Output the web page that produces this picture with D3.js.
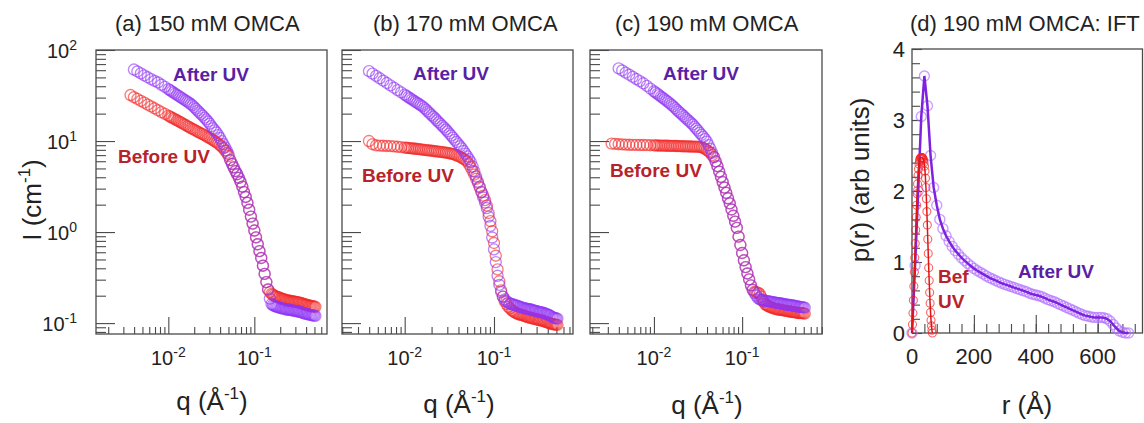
<!DOCTYPE html>
<html>
<head>
<meta charset="utf-8">
<script src="https://cdn.jsdelivr.net/npm/d3@7"></script>
<style>
  body { margin: 0; background: #fff; }
  svg { display: block; }
  text { font-family: "Liberation Sans", Arial, sans-serif; fill: #222; }
</style>
</head>
<body>
<svg id="chart" width="1144" height="423"></svg>
<script>
// shared q grid (Å^-1) for the three SAXS panels
const qValues = [0.003311, 0.003631, 0.003981, 0.004365, 0.004786, 0.005248, 0.005754, 0.006310, 0.006918, 0.007586,
  0.008318, 0.009120, 0.01000,
  0.01047, 0.01096, 0.01148, 0.01202, 0.01259, 0.01318, 0.01380, 0.01445, 0.01514, 0.01585,
  0.01660, 0.01738, 0.01820, 0.01905, 0.01995, 0.02089, 0.02188, 0.02291, 0.02399, 0.02512,
  0.02630, 0.02754, 0.02884, 0.03020, 0.03162, 0.03311, 0.03467, 0.03631, 0.03802, 0.03981,
  0.04169, 0.04365, 0.04571, 0.04786,
  0.05012, 0.05248, 0.05495, 0.05754, 0.06026, 0.06310, 0.06607, 0.06918, 0.07244, 0.07586,
  0.07943, 0.08318, 0.08710, 0.09120, 0.09550, 0.1000, 0.1047, 0.1096, 0.1148, 0.1202,
  0.1259, 0.1318, 0.1380, 0.1445, 0.1514, 0.1585,
  0.1641, 0.1698, 0.1758, 0.1820, 0.1884, 0.1950, 0.2018, 0.2089, 0.2163, 0.2239,
  0.2317, 0.2399, 0.2483, 0.2570, 0.2661, 0.2754, 0.2851, 0.2951, 0.3055, 0.3162,
  0.3273, 0.3388, 0.3508, 0.3631, 0.3758, 0.3890, 0.4027, 0.4169, 0.4315, 0.4467,
  0.4624, 0.4786, 0.4955, 0.5129];

// I (cm^-1), panel (a) 150 mM
const iAfterA = [null, null, 61.0, 58.1, 55.3, 52.7, 50.2, 47.9, 45.7, 44.0, 41.5, 39.3, 37.1,
  36.1, 35.1, 34.1, 33.1, 32.2, 31.3, 30.4, 29.6, 28.7, 27.9, 27.1, 26.4, 25.5, 24.7, 23.6, 22.6, 21.6,
  20.7, 19.8, 19.0, 18.1, 17.3, 16.4, 15.5, 14.6, 13.8, 13.1, 12.4, 11.6, 10.8, 9.98, 9.23, 8.51, 7.85,
  7.16, 6.17, 5.62, 5.13, 4.68, 4.32, 3.94, 3.55, 3.16, 2.75, 2.43, 2.09, 1.76, 1.48, 1.24, 1.04,
  0.875, 0.735, 0.617, 0.519, 0.427, 0.347, 0.282, 0.234, 0.186, 0.162,
  0.158, 0.155, 0.153, 0.151, 0.150, 0.148, 0.146, 0.145, 0.144, 0.143, 0.142, 0.141, 0.140, 0.140,
  0.139, 0.138, 0.137, 0.136, 0.135, 0.135, 0.134, 0.133, 0.131, 0.130, 0.128, 0.127, 0.126, 0.126,
  0.124, 0.123, 0.122, 0.122, 0.121, 0.120];
const iBeforeA = [null, 32.0, 30.3, 29.0, 27.6, 26.4, 25.1, 24.0, 22.9, 21.8, 20.8, 19.9, 19.0,
  18.5, 18.1, 17.7, 17.3, 16.9, 16.5, 16.1, 15.7, 15.3, 15.0, 14.6, 14.3, 13.9, 13.6, 13.3, 13.0, 12.7,
  12.4, 12.1, 11.9, 11.6, 11.3, 11.0, 10.8, 10.5, 10.2, 9.93, 9.66, 9.34, 9.02, 8.67, 8.32, 7.86, 7.41,
  6.84, 6.17, 5.62, 5.13, 4.68, 4.32, 3.94, 3.55, 3.16, 2.75, 2.43, 2.09, 1.76, 1.48, 1.24, 1.04,
  0.875, 0.735, 0.617, 0.519, 0.427, 0.347, 0.282, 0.234, 0.219, 0.209,
  0.205, 0.200, 0.197, 0.195, 0.193, 0.191, 0.188, 0.186, 0.184, 0.182, 0.180, 0.178, 0.177, 0.176,
  0.175, 0.174, 0.173, 0.172, 0.171, 0.170, 0.169, 0.168, 0.166, 0.164, 0.162, 0.160, 0.159, 0.158,
  0.156, 0.155, 0.154, 0.153, 0.152, 0.151];

// panel (b) 170 mM
const iAfterB = [null, null, 58.5, 55.1, 51.9, 48.9, 46.0, 43.4, 40.8, 38.5, 36.3, 34.2, 32.3,
  31.3, 30.4, 29.5, 28.7, 27.8, 27.0, 26.2, 25.5, 24.7, 24.0, 23.0, 22.1, 21.1, 20.2, 19.3, 18.5, 17.7,
  16.9, 16.1, 15.4, 14.7, 14.1, 13.4, 12.8, 12.1, 11.5, 10.9, 10.3, 9.76, 9.25, 8.76, 8.30, 7.77, 7.28,
  6.78, 6.31, 5.87, 5.25, 4.63, 4.07, 3.58, 3.16, 2.75, 2.40, 2.11, 1.83, 1.48, 1.17, 0.871, 0.646,
  0.468, 0.331, 0.263, 0.219, 0.195, 0.182, 0.174, 0.168, 0.164, 0.162,
  0.160, 0.158, 0.156, 0.155, 0.153, 0.151, 0.150, 0.148, 0.146, 0.145, 0.144, 0.143, 0.142, 0.141,
  0.140, 0.138, 0.137, 0.136, 0.135, 0.133, 0.132, 0.132, 0.130, 0.129, 0.127, 0.126, 0.124, 0.122,
  0.120, 0.117, 0.115, 0.114, 0.113, 0.112];
const iBeforeB = [null, null, 10.0, 9.23, 8.95, 8.91, 8.87, 8.83, 8.79, 8.73, 8.65, 8.57, 8.47,
  8.43, 8.39, 8.35, 8.32, 8.27, 8.22, 8.18, 8.15, 8.10, 8.05, 8.00, 7.96, 7.91, 7.87, 7.82, 7.78, 7.73,
  7.69, 7.64, 7.60, 7.56, 7.52, 7.46, 7.41, 7.34, 7.28, 7.18, 7.08, 6.96, 6.84, 6.68, 6.53, 6.35, 6.17,
  5.96, 5.56, 5.13, 4.68, 4.27, 3.85, 3.47, 3.09, 2.75, 2.51, 2.24, 1.95, 1.62, 1.32, 1.02, 0.759,
  0.550, 0.389, 0.288, 0.229, 0.195, 0.174, 0.162, 0.151, 0.145, 0.138,
  0.135, 0.132, 0.129, 0.127, 0.125, 0.124, 0.123, 0.122, 0.120, 0.119, 0.117, 0.116, 0.115, 0.115,
  0.113, 0.112, 0.111, 0.111, 0.109, 0.108, 0.107, 0.107, 0.106, 0.105, 0.103, 0.102, 0.101, 0.100,
  0.0988, 0.0977, 0.0971, 0.0966, 0.0960, 0.0955];

// panel (c) 190 mM
const iAfterC = [null, null, 62.8, 59.6, 56.5, 53.5, 50.7, 48.0, 45.5, 43.1, 40.3, 37.7, 35.2,
  34.1, 33.0, 31.9, 30.8, 29.8, 28.8, 27.8, 26.9, 25.9, 25.0, 24.0, 23.0, 22.0, 21.1, 20.3, 19.5, 18.7,
  17.9, 17.2, 16.5, 15.8, 15.2, 14.4, 13.7, 13.0, 12.3, 11.7, 11.1, 10.5, 9.84, 9.00, 8.22, 7.40, 6.65,
  5.97, 5.30, 4.62, 4.04, 3.53, 3.08, 2.69, 2.35, 2.07, 1.77, 1.51, 1.30, 1.11, 0.891, 0.721, 0.589,
  0.490, 0.412, 0.351, 0.302, 0.260, 0.232, 0.214, 0.200, 0.188, 0.182,
  0.180, 0.178, 0.177, 0.176, 0.175, 0.174, 0.173, 0.172, 0.171, 0.170, 0.169, 0.168, 0.167, 0.166,
  0.165, 0.164, 0.163, 0.162, 0.161, 0.160, 0.159, 0.158, 0.158, 0.157, 0.156, 0.155, 0.154, 0.153,
  0.152, 0.151, 0.151, 0.150, 0.149, 0.148];
const iBeforeC = [9.38, 9.29, 9.23, 9.18, 9.14, 9.10, 9.08, 9.06, 9.04, 9.04, 9.02, 8.99, 8.97,
  8.95, 8.93, 8.92, 8.91, 8.90, 8.89, 8.88, 8.87, 8.86, 8.85, 8.84, 8.83, 8.81, 8.79, 8.78, 8.77, 8.76,
  8.75, 8.73, 8.71, 8.70, 8.69, 8.68, 8.67, 8.64, 8.61, 8.53, 8.41, 8.20, 7.94, 7.70, 7.41, 7.00, 6.65,
  5.97, 5.30, 4.62, 4.04, 3.53, 3.08, 2.69, 2.35, 2.07, 1.77, 1.51, 1.30, 1.11, 0.891, 0.721, 0.589,
  0.490, 0.412, 0.351, 0.302, 0.260, 0.232, 0.221, 0.219, 0.216, 0.209,
  0.196, 0.182, 0.171, 0.162, 0.158, 0.155, 0.152, 0.150, 0.148, 0.146, 0.144, 0.143, 0.142, 0.141,
  0.140, 0.140, 0.139, 0.138, 0.137, 0.136, 0.135, 0.135, 0.134, 0.133, 0.132, 0.132, 0.131, 0.130,
  0.129, 0.129, 0.129, 0.129, 0.128, 0.127];

// panel (d) IFT, p(r)
const rAfter = [0, 10, 20, 30, 40, 50, 60, 70, 80, 90, 100, 110, 120, 130, 140, 150, 160, 170, 180, 190,
  200, 210, 220, 230, 240, 250, 260, 270, 280, 290, 300, 310, 320, 330, 340, 350, 360, 370, 380, 390,
  400, 410, 420, 430, 440, 450, 460, 470, 480, 490, 500, 510, 520, 530, 540, 550, 560, 570, 580, 590,
  600, 610, 620, 630, 640, 650, 660, 670, 680, 690, 700];
const pAfter = [0, 0.95, 2.0, 3.05, 3.62, 3.2, 2.5, 2.05, 1.8, 1.6, 1.47, 1.37, 1.29, 1.22, 1.16, 1.11, 1.06, 1.02, 0.98, 0.945,
  0.91, 0.88, 0.855, 0.83, 0.805, 0.78, 0.76, 0.74, 0.72, 0.70, 0.685, 0.67, 0.655, 0.64, 0.625, 0.61, 0.595, 0.58, 0.56, 0.545,
  0.535, 0.525, 0.51, 0.49, 0.47, 0.455, 0.44, 0.42, 0.40, 0.38, 0.36, 0.34, 0.32, 0.30, 0.28, 0.26, 0.245, 0.235, 0.225, 0.22,
  0.22, 0.22, 0.215, 0.20, 0.17, 0.12, 0.07, 0.03, 0.01, 0, 0];
const rBefore = [0, 1.5, 3, 4.5, 6, 7.5, 9, 10.5, 12, 13.5, 15, 16.5, 18, 19.5, 21, 22.5, 24, 25.5, 27, 28.5,
  30, 31.5, 33, 34.5, 36, 37.5, 39, 40.5, 42, 43.5, 45, 46.5, 48, 49.5, 51, 52.5, 54, 55.5, 57, 58.5,
  60, 61.5, 63, 64.5, 66];
const pBefore = [0, 0.12, 0.28, 0.46, 0.66, 0.86, 1.06, 1.26, 1.45, 1.63, 1.80, 1.96, 2.10, 2.22, 2.31, 2.38, 2.42, 2.45, 2.46, 2.47,
  2.47, 2.47, 2.47, 2.46, 2.45, 2.43, 2.40, 2.35, 2.28, 2.18, 2.05, 1.89, 1.71, 1.52, 1.32, 1.12, 0.92, 0.74, 0.57, 0.42,
  0.29, 0.18, 0.10, 0.04, 0];

const titles = ["(a) 150 mM OMCA", "(b) 170 mM OMCA", "(c) 190 mM OMCA", "(d) 190 mM OMCA: IFT"];
const yDecades = [0.1, 1, 10, 100];
const xDecades = [0.01, 0.1];
const pTicks = [0, 1, 2, 3, 4];
const rTicks = [0, 200, 400, 600];

const purple = "#9033f5", purpleText = "#5a1fa5";
const red = "#f22424", redText = "#b8232b";
const axisColor = "#4a4a4a";

const svg = d3.select("#chart");
const plotTop = 50, plotBottom = 334;

function styleAxis(sel) {
  sel.select(".domain").remove();
  sel.selectAll("line").attr("stroke", axisColor).attr("stroke-width", 1.1);
}

function powLabel(sel, base, exp, size, supSize) {
  sel.append("tspan").text(base).attr("font-size", size);
  sel.append("tspan").text(exp).attr("font-size", supSize).attr("dy", -size * 0.42);
}

function unitLabel(sel, head) {
  sel.append("tspan").text(head);
  sel.append("tspan").text("-1").attr("font-size", 17).attr("dy", -11);
  sel.append("tspan").text(")").attr("dy", 11);
}

function drawSaxs(p) {
  const g = svg.append("g");
  const x = d3.scaleLog().domain(p.xDomain).range([p.left, p.right]);
  const y = d3.scaleLog().domain([0.0759, 100]).range([plotBottom, plotTop]);

  const xMinor = [], yMinor = [];
  [0.001, 0.01, 0.1].forEach(d => { for (let k = 2; k <= 9; k++) xMinor.push(k * d); });
  [0.01, 0.1, 1, 10].forEach(d => { for (let k = 2; k <= 9; k++) yMinor.push(k * d); });
  const inX = v => v >= p.xDomain[0] && v <= p.xDomain[1];
  const inY = v => v >= 0.0759 && v <= 100;

  g.append("g").attr("transform", `translate(0,${plotBottom})`)
    .call(d3.axisBottom(x).tickValues(xMinor.filter(inX)).tickSize(-7).tickSizeOuter(0).tickFormat(""))
    .call(styleAxis);
  g.append("g").attr("transform", `translate(0,${plotBottom})`)
    .call(d3.axisBottom(x).tickValues(xDecades).tickSize(-17).tickSizeOuter(0).tickFormat(""))
    .call(styleAxis);
  g.append("g").attr("transform", `translate(${p.left},0)`)
    .call(d3.axisLeft(y).tickValues(yMinor.filter(inY)).tickSize(-10).tickSizeOuter(0).tickFormat(""))
    .call(styleAxis);
  g.append("g").attr("transform", `translate(${p.left},0)`)
    .call(d3.axisLeft(y).tickValues(yDecades).tickSize(-19).tickSizeOuter(0).tickFormat(""))
    .call(styleAxis);

  g.append("rect")
    .attr("x", p.left).attr("y", plotTop)
    .attr("width", p.right - p.left).attr("height", plotBottom - plotTop)
    .attr("fill", "none").attr("stroke", axisColor).attr("stroke-width", 1.3);

  // x tick labels
  xDecades.forEach(v => {
    const t = g.append("text").attr("x", x(v)).attr("y", 365).attr("text-anchor", "middle");
    powLabel(t, "10", String(Math.round(Math.log10(v))), 20, 14);
  });

  if (p.yLabels) {
    yDecades.forEach(v => {
      const t = g.append("text").attr("x", p.left - 19).attr("y", y(v) + 8).attr("text-anchor", "end");
      powLabel(t, "10", String(Math.round(Math.log10(v))), 20, 14);
    });
    const yl = g.append("text")
      .attr("transform", `translate(41,200) rotate(-90)`)
      .attr("text-anchor", "middle").attr("font-size", 26);
    unitLabel(yl, "I (cm");
  }

  const pts = arr => qValues.map((q, i) => ({q: q, v: arr[i]})).filter(d => d.v != null);
  [[p.before, red], [p.after, purple]].forEach(([arr, col]) => {
    g.append("g").selectAll("circle").data(pts(arr)).join("circle")
      .attr("cx", d => x(d.q)).attr("cy", d => y(d.v)).attr("r", 5.5)
      .attr("fill", "none").attr("stroke", col).attr("stroke-width", 1.35).attr("stroke-opacity", 0.6);
  });

  g.append("text").attr("x", p.titleX).attr("y", 31).attr("font-size", 22).text(p.title);

  const xl = g.append("text").attr("x", p.xLabel[0]).attr("y", p.xLabel[1])
    .attr("text-anchor", "middle").attr("font-size", 26);
  unitLabel(xl, "q (Å");

  g.append("text").attr("x", p.afterAt[0]).attr("y", p.afterAt[1])
    .attr("font-size", 19).attr("font-weight", "bold").style("fill", purpleText).text("After UV");
  g.append("text").attr("x", p.beforeAt[0]).attr("y", p.beforeAt[1])
    .attr("font-size", 19).attr("font-weight", "bold").style("fill", redText).text("Before UV");
}

drawSaxs({title: titles[0], titleX: 115, left: 96, right: 327, xDomain: [0.001442, 0.6998],
  after: iAfterA, before: iBeforeA, yLabels: true, xLabel: [212, 410], afterAt: [173, 81], beforeAt: [118, 163]});
drawSaxs({title: titles[1], titleX: 373, left: 342, right: 573, xDomain: [0.001986, 0.767],
  after: iAfterB, before: iBeforeB, yLabels: false, xLabel: [459, 413], afterAt: [413, 80], beforeAt: [362, 182]});
drawSaxs({title: titles[2], titleX: 615, left: 590, right: 822, xDomain: [0.001884, 0.805],
  after: iAfterC, before: iBeforeC, yLabels: false, xLabel: [707, 414], afterAt: [663, 80], beforeAt: [610, 177]});

// panel (d): pair distance distribution
(function () {
  const g = svg.append("g");
  const left = 912, right = 1142.5, dTop = 49, dBottom = 333;
  const x = d3.scaleLinear().domain([0, 745]).range([left, right]);
  const y = d3.scaleLinear().domain([0, 4]).range([dBottom, dTop]);

  g.append("g").attr("transform", `translate(0,${dBottom})`)
    .call(d3.axisBottom(x).tickValues(d3.range(40, 745, 40)).tickSize(-9).tickSizeOuter(0).tickFormat(""))
    .call(styleAxis);
  g.append("g").attr("transform", `translate(0,${dBottom})`)
    .call(d3.axisBottom(x).tickValues(rTicks).tickSize(-18).tickSizeOuter(0).tickFormat(""))
    .call(styleAxis);
  g.append("g").attr("transform", `translate(${left},0)`)
    .call(d3.axisLeft(y).tickValues(d3.range(0.2, 4, 0.2)).tickSize(-8).tickSizeOuter(0).tickFormat(""))
    .call(styleAxis);
  g.append("g").attr("transform", `translate(${left},0)`)
    .call(d3.axisLeft(y).tickValues(pTicks).tickSize(-10).tickSizeOuter(0).tickFormat(""))
    .call(styleAxis);

  g.append("rect").attr("x", left).attr("y", dTop)
    .attr("width", right - left).attr("height", dBottom - dTop)
    .attr("fill", "none").attr("stroke", axisColor).attr("stroke-width", 1.3);

  pTicks.forEach(v => g.append("text").attr("x", 905).attr("y", y(v) + 8)
    .attr("text-anchor", "end").attr("font-size", 22).text(v));
  rTicks.forEach(v => g.append("text").attr("x", x(v)).attr("y", 364)
    .attr("text-anchor", "middle").attr("font-size", 22).text(v));

  const line = d3.line().x(d => x(d[0])).y(d => y(d[1]));
  const before = rBefore.map((r, i) => [r, pBefore[i]]);
  const after = rAfter.map((r, i) => [r, pAfter[i]]);

  g.append("g").selectAll("circle").data(after).join("circle")
    .attr("cx", d => x(d[0])).attr("cy", d => y(d[1])).attr("r", 5)
    .attr("fill", "none").attr("stroke", "#b070ff").attr("stroke-width", 1.4).attr("stroke-opacity", 0.65);
  g.append("path").datum(after).attr("d", line)
    .attr("fill", "none").attr("stroke", "#7d22e0").attr("stroke-width", 2.5);
  g.append("g").selectAll("circle").data(before).join("circle")
    .attr("cx", d => x(d[0])).attr("cy", d => y(d[1])).attr("r", 4)
    .attr("fill", "none").attr("stroke", red).attr("stroke-width", 1.1).attr("stroke-opacity", 0.7);
  g.append("path").datum(before).attr("d", line)
    .attr("fill", "none").attr("stroke", "#e01515").attr("stroke-width", 1.5);

  g.append("text").attr("x", 910).attr("y", 31).attr("font-size", 22).text(titles[3]);
  g.append("text").attr("transform", "translate(869,180) rotate(-90)")
    .attr("text-anchor", "middle").attr("font-size", 26).text("p(r) (arb units)");
  g.append("text").attr("x", 1027).attr("y", 414).attr("text-anchor", "middle")
    .attr("font-size", 26).text("r (Å)");

  g.append("text").attr("x", 938).attr("y", 283).attr("font-size", 19).attr("font-weight", "bold")
    .style("fill", redText).text("Bef");
  g.append("text").attr("x", 938).attr("y", 308).attr("font-size", 19).attr("font-weight", "bold")
    .style("fill", redText).text("UV");
  g.append("text").attr("x", 1018).attr("y", 278).attr("font-size", 19).attr("font-weight", "bold")
    .style("fill", purpleText).text("After UV");
})();
</script>
</body>
</html>
